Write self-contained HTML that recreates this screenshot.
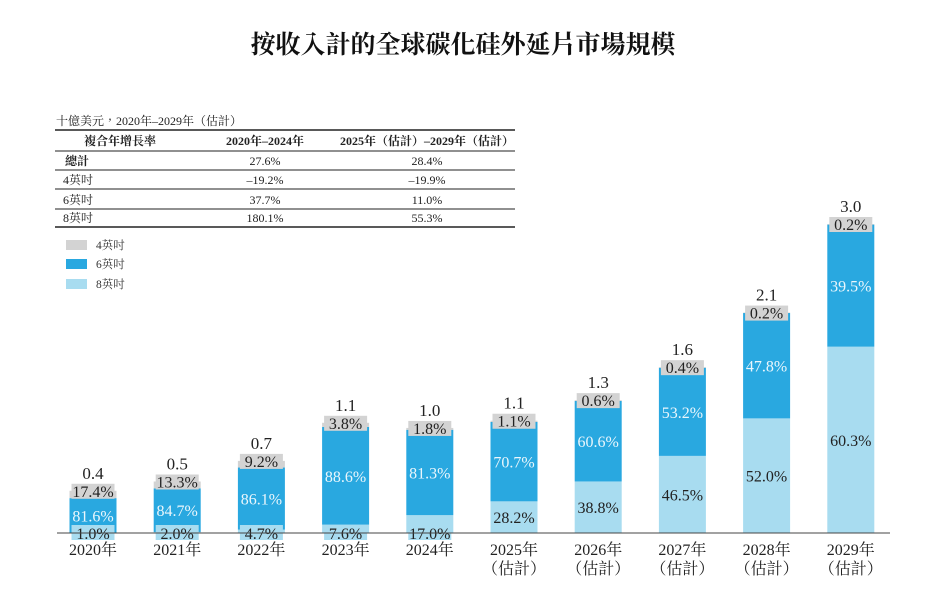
<!DOCTYPE html>
<html><head><meta charset="utf-8">
<style>
body{margin:0;background:#fff;width:927px;height:590px;overflow:hidden;font-family:"Liberation Serif","Noto Serif CJK TC","Noto Serif CJK SC",serif;}
svg text{font-family:"Liberation Serif","Noto Serif CJK TC","Noto Serif CJK SC",serif;}
</style></head><body>
<svg id="chart" width="927" height="590" viewBox="0 0 927 590">
<text x="463" y="53" text-anchor="middle" font-size="25" font-weight="bold" fill="#111">按收入計的全球碳化硅外延片市場規模</text>
<g font-size="12" fill="#222">
<text x="56" y="125">十億美元，2020年–2029年（估計）</text>
<line x1="55" y1="130" x2="515" y2="130" stroke="#222" stroke-width="1.5"/>
<text x="120" y="145" text-anchor="middle" font-weight="bold">複合年增長率</text>
<text x="265" y="145" text-anchor="middle" font-weight="bold">2020年–2024年</text>
<text x="427" y="145" text-anchor="middle" font-weight="bold">2025年（估計）–2029年（估計）</text>
<line x1="55" y1="151" x2="515" y2="151" stroke="#222" stroke-width="1"/>
<text x="65" y="165" font-weight="bold">總計</text><text x="265" y="165" text-anchor="middle">27.6%</text><text x="427" y="165" text-anchor="middle">28.4%</text>
<line x1="55" y1="170" x2="515" y2="170" stroke="#222" stroke-width="1"/>
<text x="63" y="184">4英吋</text><text x="265" y="184" text-anchor="middle">–19.2%</text><text x="427" y="184" text-anchor="middle">–19.9%</text>
<line x1="55" y1="189" x2="515" y2="189" stroke="#222" stroke-width="1"/>
<text x="63" y="204">6英吋</text><text x="265" y="204" text-anchor="middle">37.7%</text><text x="427" y="204" text-anchor="middle">11.0%</text>
<line x1="55" y1="209" x2="515" y2="209" stroke="#222" stroke-width="1"/>
<text x="63" y="222">8英吋</text><text x="265" y="222" text-anchor="middle">180.1%</text><text x="427" y="222" text-anchor="middle">55.3%</text>
<line x1="55" y1="227" x2="515" y2="227" stroke="#222" stroke-width="1.5"/>
</g>
<g font-size="11.5" fill="#333">
<rect x="66" y="240" width="21" height="10" fill="#d3d3d3"/><text x="96" y="249">4英吋</text>
<rect x="66" y="259" width="21" height="10" fill="#29a8e0"/><text x="96" y="268">6英吋</text>
<rect x="66" y="279" width="21" height="10" fill="#a8dcf0"/><text x="96" y="288">8英吋</text>
</g>
<g id="bars"></g>
<line x1="57" y1="533" x2="890" y2="533" stroke="#444" stroke-width="1"/>
</svg>
<script>
const categories=["2020年","2021年","2022年","2023年","2024年","2025年","2026年","2027年","2028年","2029年"];
const estimated=[false,false,false,false,false,true,true,true,true,true];
const totals=[0.41,0.50,0.70,1.07,1.02,1.09,1.29,1.61,2.14,3.0];
const totalLabels=["0.4","0.5","0.7","1.1","1.0","1.1","1.3","1.6","2.1","3.0"];
const share4=[17.4,13.3,9.2,3.8,1.8,1.1,0.6,0.4,0.2,0.2];
const share6=[81.6,84.7,86.1,88.6,81.3,70.7,60.6,53.2,47.8,39.5];
const share8=[1.0,2.0,4.7,7.6,17.0,28.2,38.8,46.5,52.0,60.3];
const base=533, pxPerUnit=103, x0=93, step=84.2, bw=47;
const xc=i=>x0+i*step;
const yv=v=>base-v*pxPerUnit;
const ns="http://www.w3.org/2000/svg";
const g=document.getElementById('bars');
function mk(tag,attrs,parent){const e=document.createElementNS(ns,tag);for(const k in attrs)e.setAttribute(k,attrs[k]);(parent||g).appendChild(e);return e;}
function txt(x,y,s,fill,size,parent){const t=mk('text',{x:x,y:y,'text-anchor':'middle','font-size':size||16,fill:fill},parent);t.textContent=s;return t;}
categories.forEach((c,i)=>{
  const grp=mk('g',{});
  
  
  const x=xc(i)-bw/2, T=totals[i];
  const h8=T*share8[i]/100*pxPerUnit, h6=T*share6[i]/100*pxPerUnit, h4=T*share4[i]/100*pxPerUnit;
  const r8=mk('rect',{x:x,y:base-h8,width:bw,height:h8,fill:'#a8dcf0'},grp);
  
  
  const r6=mk('rect',{x:x,y:base-h8-h6,width:bw,height:h6,fill:'#29a8e0'},grp);
  
  
  const r4=mk('rect',{x:x,y:yv(T),width:bw,height:h4,fill:'#d3d3d3'},grp);
  
  
  const top=yv(T);
  mk('rect',{x:x+2,y:top-7,width:bw-4,height:15,fill:'#d3d3d3'},grp);
  txt(xc(i),top+6,share4[i].toFixed(1)+'%','#222',16,grp);
  const c6=base-h8-h6/2;
  txt(xc(i),c6+6,share6[i].toFixed(1)+'%','#eaf6fc',16,grp);
  if(h8<22){
    mk('rect',{x:x+2,y:base-8,width:bw-4,height:15,fill:'#a8dcf0'},grp);
    txt(xc(i),base+6,share8[i].toFixed(1)+'%','#222',16,grp);
  } else {
    txt(xc(i),base-h8/2+6,share8[i].toFixed(1)+'%','#222',16,grp);
  }
  const tl=txt(xc(i),top-12,totalLabels[i],'#222',17,grp);
  
  
  const cl=txt(xc(i),555,c,'#222',16,grp);
  
  
  if(estimated[i]) txt(xc(i),574,'（估計）','#222',16,grp);
});
</script>
</body></html>
